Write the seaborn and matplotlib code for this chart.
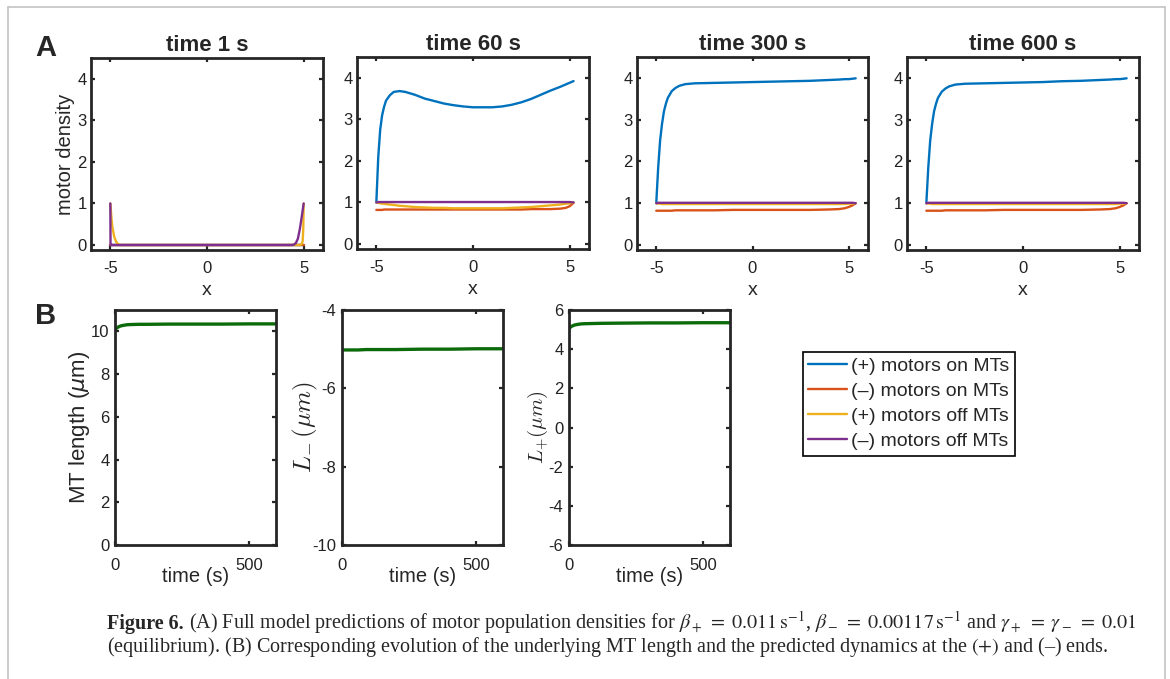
"""
Motor density snapshots (A) and MT end dynamics (B), redrawn with seaborn
"""

import numpy as np
import pandas as pd
import matplotlib.pyplot as plt
import seaborn as sns
from matplotlib.lines import Line2D

# ---- data ----
SERIES = ["(+) motors on MTs", "(\u2013) motors on MTs", "(+) motors off MTs", "(\u2013) motors off MTs"]
COLORS = ["#0072BD", "#D95319", "#EDB120", "#7E2F8E"]

# time 1 s
X_T1 = [-5.00, -4.99, -4.95, -4.90, -4.80, -4.70, -4.60, -4.50, -3.0, -1.0, 1.0, 3.0,
        4.40, 4.50, 4.60, 4.70, 4.80, 4.90, 4.95, 4.98, 5.00]
PLUS_ON_T1 = [0.0] * 21
MINUS_ON_T1 = [0.0] * 21
PLUS_OFF_T1 = [1.0, 0.95, 0.70, 0.45, 0.20, 0.08, 0.02, 0.0, 0, 0, 0, 0,
               0, 0, 0, 0, 0, 0.02, 0.10, 0.40, 1.0]
MINUS_OFF_T1 = [1.0, 0.0, 0, 0, 0, 0, 0, 0, 0, 0, 0, 0,
                0, 0.01, 0.05, 0.15, 0.38, 0.68, 0.84, 0.94, 1.0]

# time 60 s
X_T60 = [-5.0, -4.9, -4.8, -4.7, -4.6, -4.5, -4.3, -4.1, -3.8, -3.5, -3.0, -2.5, -2.0, -1.5,
         -1.0, -0.5, 0.0, 0.5, 1.0, 1.5, 2.0, 2.5, 3.0, 3.5, 4.0, 4.5, 4.8, 5.0, 5.2]
PLUS_ON_T60 = [1.0, 2.1, 2.75, 3.1, 3.3, 3.45, 3.58, 3.66, 3.68, 3.66, 3.59, 3.50, 3.44, 3.38,
               3.34, 3.31, 3.29, 3.29, 3.29, 3.31, 3.35, 3.41, 3.49, 3.59, 3.69, 3.78, 3.84, 3.88, 3.92]
MINUS_ON_T60 = [0.82, 0.82, 0.82, 0.82, 0.83, 0.83, 0.83, 0.83, 0.83, 0.83, 0.83, 0.83, 0.83, 0.83,
                0.83, 0.83, 0.83, 0.83, 0.83, 0.83, 0.83, 0.83, 0.84, 0.84, 0.84, 0.85, 0.87, 0.91, 0.99]
PLUS_OFF_T60 = [1.0, 0.99, 0.98, 0.97, 0.97, 0.96, 0.95, 0.94, 0.92, 0.91, 0.89, 0.88, 0.87, 0.87,
                0.86, 0.86, 0.86, 0.86, 0.86, 0.86, 0.87, 0.88, 0.89, 0.91, 0.93, 0.95, 0.97, 0.98, 1.0]
MINUS_OFF_T60 = [1.0, 1.01, 1.01, 1.01, 1.01, 1.01, 1.01, 1.01, 1.01, 1.01, 1.01, 1.01, 1.01, 1.01,
                 1.01, 1.01, 1.01, 1.01, 1.01, 1.01, 1.01, 1.01, 1.01, 1.01, 1.01, 1.01, 1.01, 1.01, 1.0]

# time 300 s
X_T300 = [-5.0, -4.9, -4.8, -4.7, -4.6, -4.5, -4.4, -4.2, -4.0, -3.8, -3.5, -3.0, -2.0, -1.0,
          0.0, 1.0, 2.0, 3.0, 4.0, 4.5, 4.8, 5.0, 5.2, 5.36]
PLUS_ON_T300 = [1.0, 1.85, 2.5, 2.9, 3.2, 3.38, 3.52, 3.68, 3.76, 3.81, 3.85, 3.87, 3.88, 3.89,
                3.90, 3.91, 3.92, 3.93, 3.95, 3.96, 3.97, 3.97, 3.98, 3.99]
MINUS_ON_T300 = [0.82, 0.82, 0.82, 0.82, 0.82, 0.82, 0.82, 0.82, 0.83, 0.83, 0.83, 0.83, 0.83, 0.84,
                 0.84, 0.84, 0.84, 0.84, 0.85, 0.86, 0.88, 0.91, 0.95, 1.0]
PLUS_OFF_T300 = [1.0, 0.99, 0.99, 0.98, 0.98, 0.98, 0.98, 0.98, 0.98, 0.98, 0.98, 0.98, 0.98, 0.98,
                 0.98, 0.98, 0.98, 0.98, 0.98, 0.98, 0.98, 0.99, 0.99, 1.0]
MINUS_OFF_T300 = [1.0, 1.01, 1.01, 1.01, 1.01, 1.01, 1.01, 1.01, 1.01, 1.01, 1.01, 1.01, 1.01, 1.01,
                  1.01, 1.01, 1.01, 1.01, 1.01, 1.01, 1.01, 1.01, 1.01, 1.0]

# time 600 s
X_T600 = [-5.0, -4.9, -4.8, -4.7, -4.6, -4.5, -4.4, -4.2, -4.0, -3.8, -3.5, -3.0, -2.0, -1.0,
          0.0, 1.0, 2.0, 3.0, 4.0, 4.5, 4.8, 5.0, 5.2, 5.36]
PLUS_ON_T600 = [1.0, 1.85, 2.5, 2.9, 3.2, 3.38, 3.52, 3.67, 3.75, 3.80, 3.84, 3.86, 3.87, 3.88,
                3.89, 3.90, 3.92, 3.93, 3.95, 3.96, 3.97, 3.97, 3.98, 3.99]
MINUS_ON_T600 = [0.82, 0.82, 0.82, 0.82, 0.82, 0.82, 0.82, 0.82, 0.83, 0.83, 0.83, 0.83, 0.83, 0.84,
                 0.84, 0.84, 0.84, 0.84, 0.85, 0.86, 0.88, 0.91, 0.95, 1.0]
PLUS_OFF_T600 = [1.0, 0.99, 0.99, 0.98, 0.98, 0.98, 0.98, 0.98, 0.98, 0.98, 0.98, 0.98, 0.98, 0.98,
                 0.98, 0.98, 0.98, 0.98, 0.98, 0.98, 0.98, 0.99, 0.99, 1.0]
MINUS_OFF_T600 = [1.0, 1.01, 1.01, 1.01, 1.01, 1.01, 1.01, 1.01, 1.01, 1.01, 1.01, 1.01, 1.01, 1.01,
                  1.01, 1.01, 1.01, 1.01, 1.01, 1.01, 1.01, 1.01, 1.01, 1.0]

SNAPSHOT_TITLES = ["time 1 s", "time 60 s", "time 300 s", "time 600 s"]

# panel B: MT length and end positions over time
TIME_S = [0, 5, 10, 20, 30, 45, 60, 90, 120, 200, 300, 400, 500, 600]
MT_LENGTH = [10.07, 10.14, 10.19, 10.25, 10.28, 10.31, 10.32, 10.33, 10.33, 10.34, 10.34, 10.34, 10.35, 10.35]
L_MINUS = [-5.02, -5.02, -5.02, -5.02, -5.02, -5.02, -5.02, -5.01, -5.01, -5.01, -5.00, -5.00, -4.99, -4.99]
L_PLUS = [5.05, 5.12, 5.17, 5.23, 5.26, 5.29, 5.30, 5.31, 5.32, 5.33, 5.34, 5.34, 5.35, 5.35]
GREEN = "#0b6b0b"

W, H = 1170, 679
INK = "#262626"


def box(x0, y0, x1, y1):
    """pixel box (top-left origin) -> figure fraction rect"""
    return [x0 / W, 1 - y1 / H, (x1 - x0) / W, (y1 - y0) / H]


def style_axes(ax, tick_size, pad_x, pad_y):
    for s in ax.spines.values():
        s.set_visible(True)
        s.set_color(INK)
        s.set_linewidth(2.0)
    ax.tick_params(direction="in", length=3, width=1.6, colors=INK,
                   top=True, right=True, left=True, bottom=True, labelsize=tick_size)
    ax.tick_params(axis="x", pad=pad_x, labelcolor="#222222")
    ax.tick_params(axis="y", pad=pad_y, labelcolor="#222222")
    ax.grid(False)


sns.set_style("white")
plt.rcParams["font.family"] = ["Liberation Sans", "DejaVu Sans"]
plt.rcParams["axes.unicode_minus"] = False

fig = plt.figure(figsize=(W / 100, H / 100), dpi=100)

# ---- panel A ----
snapshots = [
    (X_T1, [PLUS_ON_T1, MINUS_ON_T1, PLUS_OFF_T1, MINUS_OFF_T1]),
    (X_T60, [PLUS_ON_T60, MINUS_ON_T60, PLUS_OFF_T60, MINUS_OFF_T60]),
    (X_T300, [PLUS_ON_T300, MINUS_ON_T300, PLUS_OFF_T300, MINUS_OFF_T300]),
    (X_T600, [PLUS_ON_T600, MINUS_ON_T600, PLUS_OFF_T600, MINUS_OFF_T600]),
]
a_boxes = [(91, 58, 323, 250), (357, 57, 589, 249), (637, 57, 868, 250), (907, 57, 1139, 250)]

for i, ((xs, curves), title, bx) in enumerate(zip(snapshots, SNAPSHOT_TITLES, a_boxes)):
    ax = fig.add_axes(box(*bx))
    for name, ys, col in zip(SERIES, curves, COLORS):
        df = pd.DataFrame({"x": xs, "density": ys})
        sns.lineplot(data=df, x="x", y="density", color=col, lw=1.7,
                     sort=False, estimator=None, ax=ax, label=name, legend=False)
    ax.set_xlim(-6, 6)
    ax.set_ylim(-0.12, 4.5)
    ax.set_xticks([-5, 0, 5])
    ax.set_yticks([0, 1, 2, 3, 4])
    style_axes(ax, 12, 8, 3)
    ax.set_title(title, fontsize=16, fontweight="bold", pad=5)
    ax.set_xlabel("x", fontsize=14, labelpad=4)
    ax.set_ylabel("motor density" if i == 0 else "", fontsize=14.5, labelpad=2)
    if i == 0:
        legend_ax = ax

# ---- panel B ----
b_specs = [
    (MT_LENGTH, (115, 310, 276, 545), (0, 11), np.arange(0, 11, 2), r"MT length ($\mu$m)", 16, -0.145),
    (L_MINUS, (342, 310, 503, 545), (-10, -4), np.arange(-10, -3, 2), r"$L_{-}\,(\mu m)$", 18, -0.135),
    (L_PLUS, (569, 310, 730, 545), (-6, 6), np.arange(-6, 7, 2), r"$L_{+}(\mu m)$", 15, -0.12),
]
for vals, bx, ylim, yt, ylab, ysz, lx in b_specs:
    ax = fig.add_axes(box(*bx))
    df = pd.DataFrame({"time": TIME_S, "value": vals})
    sns.lineplot(data=df, x="time", y="value", color=GREEN, lw=2.4,
                 estimator=None, ax=ax, legend=False)
    ax.set_xlim(0, 600)
    ax.set_ylim(*ylim)
    ax.set_xticks([0, 500])
    ax.set_yticks(yt)
    style_axes(ax, 12, 9, 4)
    ax.set_xlabel("time (s)", fontsize=14.5, labelpad=-4)
    if ylab.startswith("$"):
        ax.set_ylabel(ylab, fontsize=ysz, math_fontfamily="cm")
    else:
        ax.set_ylabel(ylab, fontsize=ysz)
    ax.yaxis.set_label_coords(lx, 0.5)

# legend box to the right of panel B
handles = legend_ax.get_lines()[:4]
fig.legend(handles, SERIES, loc="upper left", bbox_to_anchor=(803 / W, 1 - 352 / H),
           frameon=True, fancybox=False, edgecolor="black", framealpha=1,
           fontsize=14, handlelength=2.0, handletextpad=0.2, labelspacing=0.38,
           borderpad=0.28, borderaxespad=0).get_frame().set_linewidth(1.2)

# panel letters
fig.text(35 / W, 1 - 48 / H, "A", fontsize=21, fontweight="bold", va="center", ha="left")
fig.text(35 / W, 1 - 316 / H, "B", fontsize=21, fontweight="bold", va="center", ha="left")

# page frame
frame = dict(color="#c4c4c4", lw=1.2, transform=fig.transFigure)
fig.add_artist(Line2D([8 / W, 8 / W], [0, 1 - 7 / H], **frame))
fig.add_artist(Line2D([8 / W, 1165 / W], [1 - 7 / H, 1 - 7 / H], **frame))
fig.add_artist(Line2D([1165 / W, 1165 / W], [0, 1 - 7 / H], **frame))

# caption
serif = ["Liberation Serif", "DejaVu Serif"]
cap_size = 14.5
renderer = fig.canvas.get_renderer()
bold = fig.text(107 / W, 1 - 629 / H, "Figure 6.", fontsize=cap_size, fontweight="bold",
                family=serif, va="baseline", ha="left")
bb = bold.get_window_extent(renderer)
line1 = (r" (A) Full model predictions of motor population densities for "
         r"$\beta_+\;=\;0.011\,\mathrm{s}^{-1}$, $\beta_-\;=\;0.00117\,\mathrm{s}^{-1}$ and "
         r"$\gamma_+\;=\;\gamma_-\;=\;0.01$")
fig.text(bb.x1 / W, 1 - 629 / H, line1, fontsize=cap_size, family=serif,
         va="baseline", ha="left", math_fontfamily="stix")
line2 = ("(equilibrium). (B) Corresponding evolution of the underlying MT length and the "
         "predicted dynamics at the $(+)$ and (\u2013) ends.")
fig.text(107 / W, 1 - 652 / H, line2, fontsize=cap_size, family=serif,
         va="baseline", ha="left", math_fontfamily="stix")

fig.savefig("out.png", dpi=100, facecolor="white")
